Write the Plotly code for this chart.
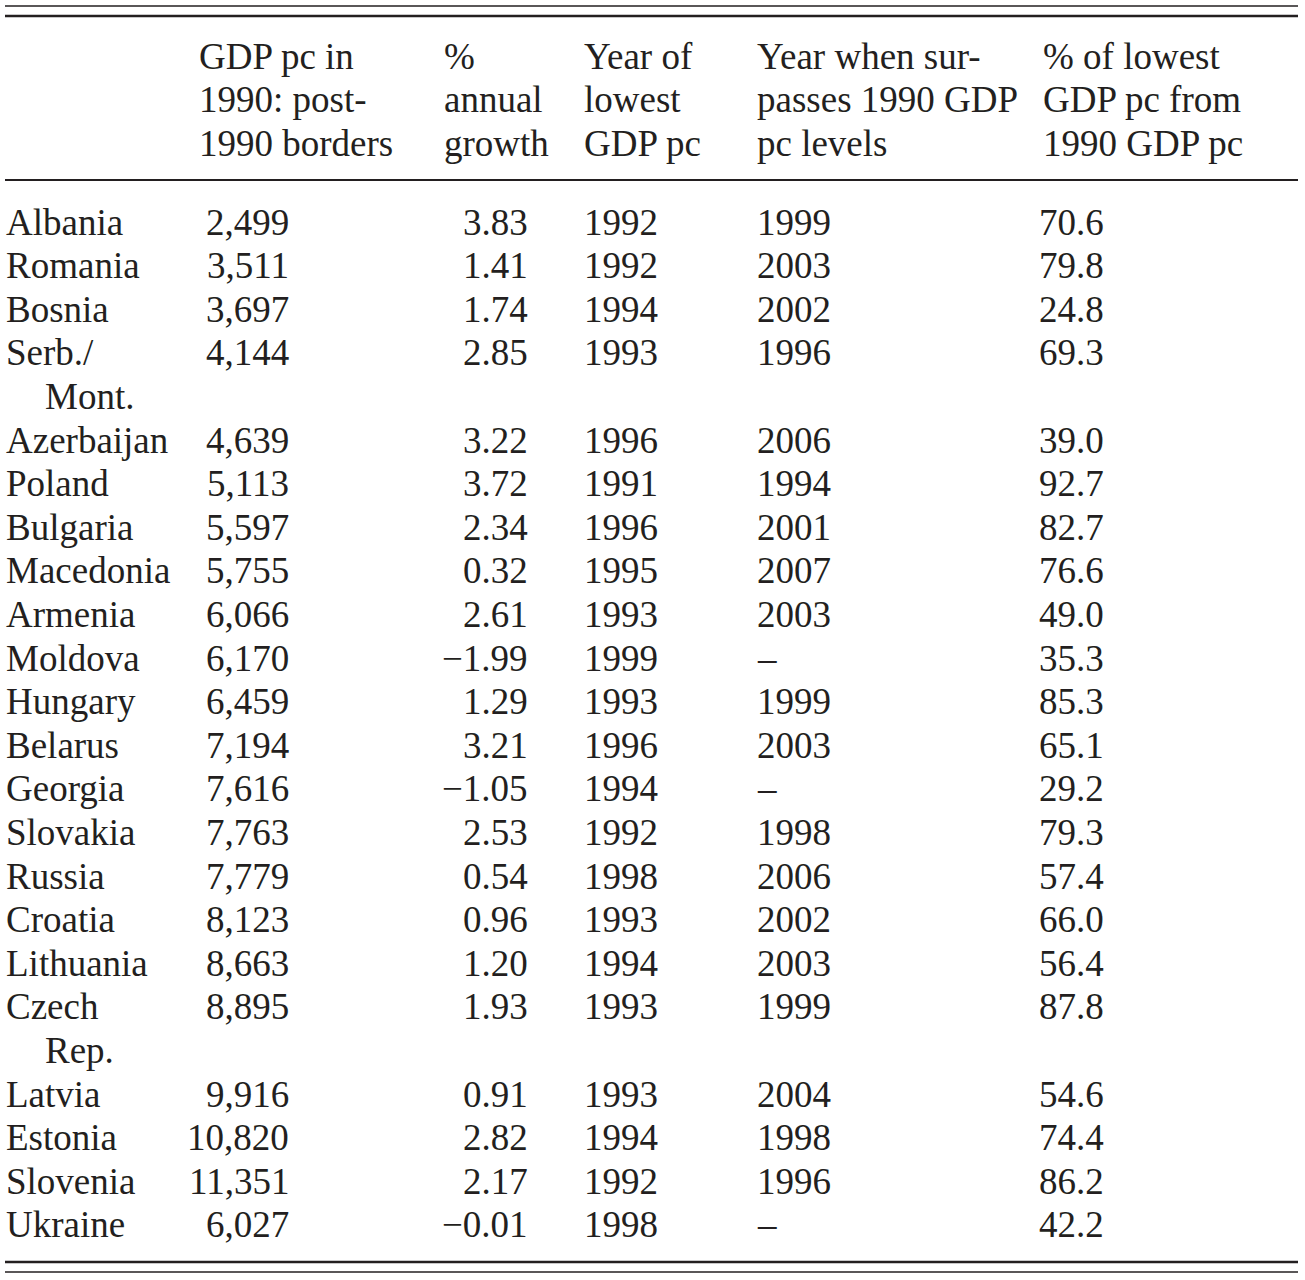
import plotly.graph_objects as go

# ---------------- data ----------------
countries = ["Albania", "Romania", "Bosnia", "Serb./\nMont.", "Azerbaijan", "Poland",
             "Bulgaria", "Macedonia", "Armenia", "Moldova", "Hungary", "Belarus",
             "Georgia", "Slovakia", "Russia", "Croatia", "Lithuania", "Czech\nRep.",
             "Latvia", "Estonia", "Slovenia", "Ukraine"]
gdp_pc_1990 = [2499, 3511, 3697, 4144, 4639, 5113, 5597, 5755, 6066, 6170, 6459, 7194,
               7616, 7763, 7779, 8123, 8663, 8895, 9916, 10820, 11351, 6027]
annual_growth = [3.83, 1.41, 1.74, 2.85, 3.22, 3.72, 2.34, 0.32, 2.61, -1.99, 1.29, 3.21,
                 -1.05, 2.53, 0.54, 0.96, 1.20, 1.93, 0.91, 2.82, 2.17, -0.01]
year_lowest = [1992, 1992, 1994, 1993, 1996, 1991, 1996, 1995, 1993, 1999, 1993, 1996,
               1994, 1992, 1998, 1993, 1994, 1993, 1993, 1994, 1992, 1998]
year_surpass = [1999, 2003, 2002, 1996, 2006, 1994, 2001, 2007, 2003, None, 1999, 2003,
                None, 1998, 2006, 2002, 2003, 1999, 2004, 1998, 1996, None]
pct_lowest = [70.6, 79.8, 24.8, 69.3, 39.0, 92.7, 82.7, 76.6, 49.0, 35.3, 85.3, 65.1,
              29.2, 79.3, 57.4, 66.0, 56.4, 87.8, 54.6, 74.4, 86.2, 42.2]
headers = [
    ["GDP pc in", "1990: post-", "1990 borders"],
    ["%", "annual", "growth"],
    ["Year of", "lowest", "GDP pc"],
    ["Year when sur-", "passes 1990 GDP", "pc levels"],
    ["% of lowest", "GDP pc from", "1990 GDP pc"],
]

# ---------------- layout constants ----------------
W, H = 1305, 1280
FONT = "Liberation Serif, Times New Roman, serif"
FS = 37
INK = "#231f20"
PITCH = 43.6
ROW0 = 222
HEAD0 = 56
X_NAME, X_INDENT = 5, 44
# (x, anchor) for each data column
col_pos = [(290, "right"), (529, "right"), (583, "left"), (756, "left"), (1105, "right")]
head_x = [198, 443, 583, 756, 1042]

def fmt_num(v, d):
    s = f"{abs(v):,.{d}f}"
    return ("\u2212" + s) if v < 0 else s

cols = [
    [fmt_num(v, 0) for v in gdp_pc_1990],
    [fmt_num(v, 2) for v in annual_growth],
    [str(v) for v in year_lowest],
    [str(v) if v is not None else "\u2013" for v in year_surpass],
    [fmt_num(v, 1) for v in pct_lowest],
]

annotations = []

def add(text, x, y, xanchor):
    annotations.append(dict(text=text, x=x, y=y, xref="x", yref="y", xanchor=xanchor,
                            yanchor="middle", showarrow=False, align=xanchor,
                            font=dict(family=FONT, size=FS, color=INK), borderpad=0))

# header
for hx, lines in zip(head_x, headers):
    for j, line in enumerate(lines):
        add(line, hx, HEAD0 + j * PITCH, "left")

# body
slot = 0
for i, name in enumerate(countries):
    y = ROW0 + slot * PITCH
    parts = name.split("\n")
    add(parts[0], X_NAME, y, "left")
    for k, extra in enumerate(parts[1:], start=1):
        add(extra, X_INDENT, y + k * PITCH, "left")
    for (cx, anc), vals in zip(col_pos, cols):
        add(vals[i], cx, y, anc)
    slot += len(parts)

# rules
def rule(y, w):
    return dict(type="line", xref="x", yref="y", x0=5, x1=1298, y0=y, y1=y,
                line=dict(color=INK, width=w))

shapes = [rule(6, 1.5), rule(16, 2.5), rule(180, 2), rule(1262, 2.5), rule(1272, 1.5)]

fig = go.Figure(go.Scatter(x=[0, W], y=[0, H], mode="markers",
                           marker=dict(opacity=0), hoverinfo="skip", showlegend=False))
fig.update_layout(
    width=W, height=H, margin=dict(l=0, r=0, t=0, b=0),
    paper_bgcolor="white", plot_bgcolor="white",
    xaxis=dict(range=[0, W], visible=False, fixedrange=True),
    yaxis=dict(range=[H, 0], visible=False, fixedrange=True),
    annotations=annotations, shapes=shapes, showlegend=False,
)
fig.write_html("out.html",
               config={"displayModeBar": False, "staticPlot": True},
               post_script="document.body.style.margin='0px';"
                           "document.body.style.overflow='hidden';")
